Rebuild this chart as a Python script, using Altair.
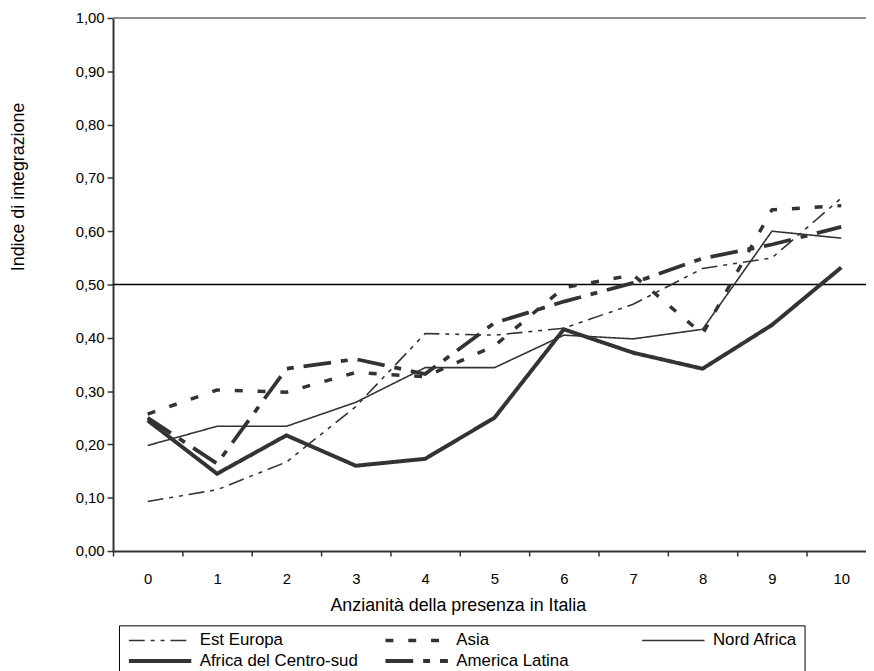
import altair as alt
import pandas as pd

# ---------------- data ----------------
years = [0, 1, 2, 3, 4, 5, 6, 7, 8, 9, 10]
x_labels = ["0", "1", "2", "3", "4", "5", "6", "7", "8", "9", "10"]
y_ticks = [0.0, 0.1, 0.2, 0.3, 0.4, 0.5, 0.6, 0.7, 0.8, 0.9, 1.0]
series_names = ["Est Europa", "Asia", "Nord Africa", "Africa del Centro-sud", "America Latina"]

est_europa = [0.093, 0.115, 0.167, 0.271, 0.408, 0.405, 0.418, 0.463, 0.530, 0.550, 0.662]
asia = [0.257, 0.302, 0.298, 0.335, 0.327, 0.385, 0.494, 0.518, 0.407, 0.640, 0.648]
nord_africa = [0.198, 0.234, 0.234, 0.279, 0.344, 0.344, 0.405, 0.398, 0.416, 0.600, 0.587]
africa_cs = [0.245, 0.145, 0.217, 0.160, 0.173, 0.250, 0.416, 0.372, 0.342, 0.424, 0.532]
america_latina = [0.250, 0.164, 0.342, 0.360, 0.332, 0.428, 0.468, 0.503, 0.549, 0.575, 0.608]

threshold = [0.5]
top_line = [1.0]

values_by_series = [est_europa, asia, nord_africa, africa_cs, america_latina]
rows = []
for name, vals in zip(series_names, values_by_series):
    for yr, v in zip(years, vals):
        rows.append({"year": yr, "value": v, "series": name})
df = pd.DataFrame(rows)

# ---------------- styles ----------------
FONT = "Liberation Sans, Arial, Helvetica, sans-serif"
INK = "#333333"
dashes = [[16, 6, 4, 6, 4, 6], [8, 15], [1, 0], [1, 0], [28, 10, 7, 10]]
widths = [1.6, 3.5, 1.6, 4.0, 3.8]

x_tick_values = []
for yr in years:
    x_tick_values.append(yr - 0.5)
    x_tick_values.append(yr)

label_array = "[" + ",".join("'" + s + "'" for s in x_labels) + "]"
x_label_expr = "datum.value % 1 === 0 ? " + label_array + "[datum.value] : ''"

legend = alt.Legend(
    title=None,
    orient="none",
    legendX=6,
    legendY=613,
    direction="horizontal",
    columns=3,
    gridAlign="all",
    symbolType="M-1,0H11.6",
    symbolSize=100,
    symbolStrokeColor=INK,
    symbolFillColor="transparent",
    labelFont=FONT,
    labelFontSize=17,
    labelColor="#000000",
    labelOffset=58,
    labelLimit=400,
    columnPadding=19,
    rowPadding=3,
    padding=6.5,
    strokeColor="#000000",
)

x_enc = alt.X(
    "year:Q",
    scale=alt.Scale(domain=[-0.5, 10.357], nice=False, zero=False),
    axis=alt.Axis(
        values=x_tick_values,
        labelExpr=x_label_expr,
        tickOpacity={"condition": {"test": "datum.value % 1 !== 0", "value": 1}, "value": 0},
        grid=False,
        domainColor=INK,
        domainWidth=2,
        tickColor=INK,
        tickWidth=1.5,
        tickSize=5,
        labelFont=FONT,
        labelFontSize=15,
        labelColor="#000000",
        labelPadding=16,
        labelOverlap=False,
        labelFlush=False,
        title="Anzianità della presenza in Italia",
        titleFont=FONT,
        titleFontSize=18,
        titleFontWeight="normal",
        titleColor="#000000",
        titleX=348,
        titleY=55,
        titleAlign="center",
        titleBaseline="middle",
    ),
)

y_scale = alt.Scale(domain=[0, 1], nice=False, zero=True)
y_axis = alt.Axis(
    values=y_ticks,
    labelExpr="replace(format(datum.value, '.2f'), '.', ',')",
    grid=False,
    domainColor=INK,
    domainWidth=2,
    tickColor=INK,
    tickWidth=1.5,
    tickSize=6,
    labelFont=FONT,
    labelFontSize=15,
    labelColor="#000000",
    labelPadding=3,
    title="Indice di integrazione",
    titleFont=FONT,
    titleFontSize=18,
    titleFontWeight="normal",
    titleColor="#000000",
    titleAngle=270,
    titleX=-95,
    titleY=170,
    titleAlign="center",
    titleBaseline="middle",
)

top_rule = alt.Chart(pd.DataFrame({"v": top_line})).mark_rule(
    color="#8c8c8c", strokeWidth=2
).encode(y=alt.Y("v:Q", scale=y_scale, axis=y_axis))

half_rule = alt.Chart(pd.DataFrame({"v": threshold})).mark_rule(
    color="#000000", strokeWidth=1.5
).encode(y=alt.Y("v:Q", scale=y_scale))

lines = alt.Chart(df).mark_line(color=INK, strokeCap="butt", strokeJoin="miter").encode(
    x=x_enc,
    y=alt.Y("value:Q", scale=y_scale, axis=y_axis),
    strokeDash=alt.StrokeDash(
        "series:N",
        scale=alt.Scale(domain=series_names, range=dashes),
        legend=legend,
        sort=series_names,
    ),
    strokeWidth=alt.StrokeWidth(
        "series:N",
        scale=alt.Scale(type="ordinal", domain=series_names, range=widths),
        legend=legend,
        sort=series_names,
    ),
)

chart = (
    alt.layer(top_rule, half_rule, lines)
    .properties(
        width=760,
        height=538,
        padding={"left": 106, "top": 7, "right": 0, "bottom": 118},
        autosize=alt.AutoSizeParams(type="none"),
        background="white",
    )
    .configure_view(stroke=None)
)

chart.save("out.html", embed_options={"renderer": "svg", "actions": False})
